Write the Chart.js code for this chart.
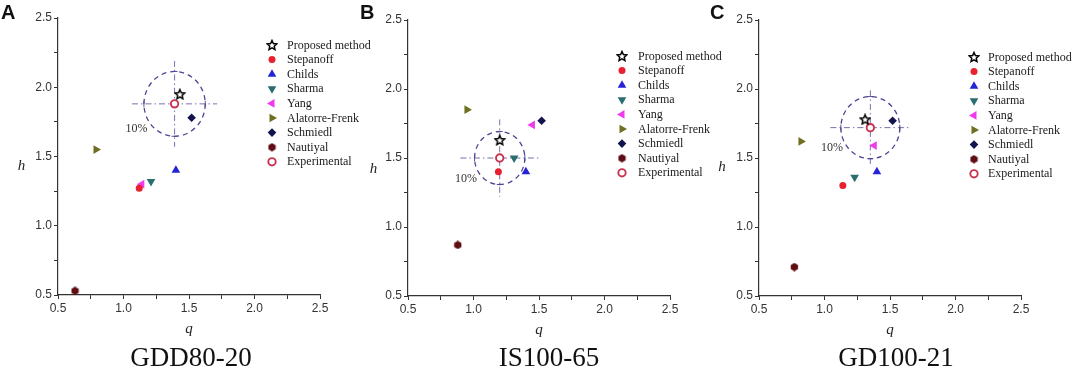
<!DOCTYPE html>
<html>
<head>
<meta charset="utf-8">
<script src="https://cdn.jsdelivr.net/npm/chart.js@4.4.1/dist/chart.umd.min.js"></script>
<style>
  html, body { margin: 0; padding: 0; background: #fff; }
  #wrap { position: relative; width: 1072px; height: 371px; overflow: hidden; }
  .panel { position: absolute; top: 0; height: 371px; }
  .panel canvas { display: block; }
</style>
</head>
<body>
<div id="wrap">
  <div class="panel" style="left:0px;"><canvas id="chartA" width="380" height="371"></canvas></div>
  <div class="panel" style="left:355px;"><canvas id="chartB" width="375" height="371"></canvas></div>
  <div class="panel" style="left:708px;"><canvas id="chartC" width="364" height="371"></canvas></div>
</div>
<script>
// head coefficient h vs flow coefficient q at BEP, three pumps

var methodNames = ['Proposed method', 'Stepanoff', 'Childs', 'Sharma', 'Yang',
                   'Alatorre-Frenk', 'Schmiedl', 'Nautiyal', 'Experimental'];
var pumpNames = ['GDD80-20', 'IS100-65', 'GD100-21'];
var panelLetters = ['A', 'B', 'C'];

// values (same order as methodNames)
var qA = [1.43, 1.12, 1.40, 1.21, 1.14, 0.79, 1.52, 0.63, 1.39];
var hA = [1.95, 1.27, 1.40, 1.32, 1.30, 1.55, 1.78, 0.53, 1.88];
var qB = [1.20, 1.19, 1.40, 1.31, 1.45, 0.95, 1.52, 0.88, 1.20];
var hB = [1.63, 1.40, 1.40, 1.50, 1.74, 1.85, 1.77, 0.87, 1.50];
var qC = [1.31, 1.14, 1.40, 1.23, 1.38, 0.82, 1.52, 0.77, 1.35];
var hC = [1.78, 1.30, 1.40, 1.36, 1.59, 1.62, 1.77, 0.71, 1.72];

// axis tick labels (both axes)
var axisTicks = [0.5, 1.0, 1.5, 2.0, 2.5];

// 10% band around the experimental point, and the crosshair half lengths
var bandRadius = [0.234, 0.192, 0.225];
var crossQ = [0.325, 0.30, 0.305];
var crossH = [0.31, 0.28, 0.27];
// where the "10%" note sits (data coords)
var noteQ = [1.10, 0.943, 1.057];
var noteH = [1.70, 1.348, 1.572];

// ---- marker styling ----
function makeStar(size) {
    var c = document.createElement('canvas');
    c.width = size; c.height = size;
    var g = c.getContext('2d');
    var cx = size / 2, cy = size / 2 + 0.5, R = size / 2 - 1, r = R * 0.47;
    g.beginPath();
    for (var i = 0; i < 10; i++) {
        var a = -Math.PI / 2 + i * Math.PI / 5;
        var rr = (i % 2) ? r : R;
        g.lineTo(cx + rr * Math.cos(a), cy + rr * Math.sin(a));
    }
    g.closePath();
    g.fillStyle = '#fff';
    g.fill();
    g.lineWidth = 1.5;
    g.strokeStyle = '#000';
    g.stroke();
    return c;
}
function makeHex(size, color) {
    var c = document.createElement('canvas');
    c.width = size; c.height = size;
    var g = c.getContext('2d');
    var cx = size / 2, cy = size / 2, R = size / 2 - 0.3;
    g.beginPath();
    for (var i = 0; i < 6; i++) {
        var a = Math.PI / 6 + i * Math.PI / 3;
        g.lineTo(cx + R * Math.cos(a), cy + R * Math.sin(a));
    }
    g.closePath();
    g.fillStyle = color;
    g.fill();
    return c;
}

var markerStyles = [makeStar(12), 'circle', 'triangle', 'triangle', 'triangle',
                    'triangle', 'rectRot', makeHex(9, '#5e0d12'), 'circle'];
var markerRotation = [0, 0, 0, 180, 270, 90, 0, 0, 0];
var markerRadius = [5, 3.5, 5, 5, 5, 5, 4.3, 4, 3.7];
var markerFill = ['#fff', '#e8212e', '#2424d4', '#2a6f6f', '#ee3bee',
                  '#6f6f22', '#13134d', '#5e0d12', '#ffffff'];
var markerEdge = ['#000', '#e8212e', '#2424d4', '#2a6f6f', '#ee3bee',
                  '#6f6f22', '#13134d', '#5e0d12', '#c8334f'];
var markerBorder = [0, 0, 0, 0, 0, 0, 0, 0, 1.9];

// ---- per panel layout (canvas coords) ----
var yAxisWidth = [58, 53, 51];
var padTop = [18, 20, 20];
var padRight = [60, 60, 51];
var padBottom = [31, 30, 30];
var legendSymX = [272, 267, 266];
var legendTextX = [287, 283, 280];
var legendTopY = [45, 56, 57];
var legendStep = 14.6;
var hLabelPos = [[21.5, 170], [18.5, 172.5], [14, 170.5]];
var nameX = [191, 194, 188];
var letterX = [1, 5, 2];

var bandPlugin = {
    id: 'band',
    beforeDatasetsDraw: function (chart, args, opts) {
        var i = opts.idx;
        var xs = chart.scales.x, ys = chart.scales.y;
        var q0 = opts.q[8], h0 = opts.h[8];
        var cx = xs.getPixelForValue(q0), cy = ys.getPixelForValue(h0);
        var rx = xs.getPixelForValue(q0 + bandRadius[i]) - cx;
        var ry = cy - ys.getPixelForValue(h0 + bandRadius[i]);
        var ctx = chart.ctx;
        ctx.save();
        // crosshair, dash-dot
        ctx.strokeStyle = '#7b6fae';
        ctx.lineWidth = 1;
        ctx.setLineDash([6, 3, 1.5, 3]);
        ctx.beginPath();
        ctx.moveTo(xs.getPixelForValue(q0 - crossQ[i]), cy);
        ctx.lineTo(xs.getPixelForValue(q0 + crossQ[i]), cy);
        ctx.moveTo(cx, ys.getPixelForValue(h0 + crossH[i]));
        ctx.lineTo(cx, ys.getPixelForValue(h0 - crossH[i]));
        ctx.stroke();
        // small marks where the crosshair meets the band
        ctx.setLineDash([]);
        ctx.strokeStyle = '#5a4f9a';
        ctx.beginPath();
        ctx.moveTo(cx - rx, cy - 3); ctx.lineTo(cx - rx, cy + 3);
        ctx.moveTo(cx + rx, cy - 3); ctx.lineTo(cx + rx, cy + 3);
        ctx.moveTo(cx - 3, cy - ry); ctx.lineTo(cx + 3, cy - ry);
        ctx.moveTo(cx - 3, cy + ry); ctx.lineTo(cx + 3, cy + ry);
        ctx.stroke();
        // dashed 10% circle
        ctx.strokeStyle = '#4b4593';
        ctx.lineWidth = 1.3;
        ctx.setLineDash([5, 4]);
        ctx.beginPath();
        ctx.ellipse(cx, cy, rx, ry, 0, 0, Math.PI * 2);
        ctx.stroke();
        ctx.restore();
    },
    afterDraw: function (chart, args, opts) {
        var i = opts.idx;
        var ctx = chart.ctx;
        var xs = chart.scales.x, ys = chart.scales.y;
        ctx.save();
        // legend
        chart.data.datasets.forEach(function (ds, k) {
            var y = legendTopY[i] + k * legendStep;
            ctx.fillStyle = ds.pointBackgroundColor;
            ctx.strokeStyle = ds.pointBorderColor;
            ctx.lineWidth = ds.pointBorderWidth;
            Chart.helpers.drawPoint(ctx, {
                pointStyle: ds.pointStyle,
                rotation: ds.pointRotation,
                radius: ds.pointRadius,
                borderWidth: ds.pointBorderWidth
            }, legendSymX[i], y);
            ctx.fillStyle = '#1a1a1a';
            ctx.font = '12px "Liberation Serif"';
            ctx.textAlign = 'left';
            ctx.textBaseline = 'middle';
            ctx.fillText(ds.label, legendTextX[i], y + 0.5);
        });
        // 10% note
        ctx.fillStyle = '#333';
        ctx.font = '12px "Liberation Serif"';
        ctx.textAlign = 'center';
        ctx.textBaseline = 'middle';
        ctx.fillText('10%', xs.getPixelForValue(noteQ[i]), ys.getPixelForValue(noteH[i]));
        // y axis name
        ctx.fillStyle = '#222';
        ctx.font = 'italic 15px "Liberation Serif"';
        ctx.textBaseline = 'alphabetic';
        ctx.fillText('h', hLabelPos[i][0], hLabelPos[i][1]);
        // pump name under the panel
        ctx.font = '27px "Liberation Serif"';
        ctx.fillStyle = '#111';
        ctx.fillText(pumpNames[i], nameX[i], 366);
        // panel letter
        ctx.font = 'bold 20px "Liberation Sans"';
        ctx.textAlign = 'left';
        ctx.fillText(panelLetters[i], letterX[i], 19);
        ctx.restore();
    }
};

function tickLabel(v) {
    for (var k = 0; k < axisTicks.length; k++) {
        if (Math.abs(axisTicks[k] - v) < 1e-6) return axisTicks[k].toFixed(1);
    }
    return '';
}

function buildDatasets(qs, hs) {
    return methodNames.map(function (name, k) {
        return {
            label: name,
            data: [{ x: qs[k], y: hs[k] }],
            pointStyle: markerStyles[k],
            pointRotation: markerRotation[k],
            pointRadius: markerRadius[k],
            pointBackgroundColor: markerFill[k],
            pointBorderColor: markerEdge[k],
            pointBorderWidth: markerBorder[k],
            showLine: false
        };
    });
}

function makeChart(id, i, qs, hs) {
    var tickFont = { family: '"Liberation Sans"', size: 12 };
    new Chart(document.getElementById(id), {
        type: 'scatter',
        data: { datasets: buildDatasets(qs, hs) },
        options: {
            responsive: false,
            animation: false,
            events: [],
            layout: { padding: { top: padTop[i], right: padRight[i], bottom: padBottom[i], left: 0 } },
            scales: {
                x: {
                    type: 'linear', min: 0.5, max: 2.5,
                    afterFit: function (s) { s.height = 45; },
                    ticks: { stepSize: 0.25, autoSkip: false, maxRotation: 0, callback: tickLabel,
                             font: tickFont, color: '#333', padding: 2 },
                    grid: { drawOnChartArea: false, tickLength: 4, tickColor: '#333' },
                    border: { color: '#333', width: 1.2 },
                    title: { display: true, text: 'q', color: '#222',
                             font: { family: '"Liberation Serif"', style: 'italic', size: 15 },
                             padding: { top: 0, bottom: 2 } }
                },
                y: {
                    type: 'linear', min: 0.5, max: 2.5,
                    afterFit: function (s) { s.width = yAxisWidth[i]; },
                    ticks: { stepSize: 0.25, autoSkip: false, callback: tickLabel,
                             font: tickFont, color: '#333', padding: 2 },
                    grid: { drawOnChartArea: false, tickLength: 4, tickColor: '#333' },
                    border: { color: '#333', width: 1.2 }
                }
            },
            plugins: {
                legend: { display: false },
                tooltip: { enabled: false },
                band: { idx: i, q: qs, h: hs }
            }
        },
        plugins: [bandPlugin]
    });
}

makeChart('chartA', 0, qA, hA);
makeChart('chartB', 1, qB, hB);
makeChart('chartC', 2, qC, hC);
</script>
</body>
</html>
